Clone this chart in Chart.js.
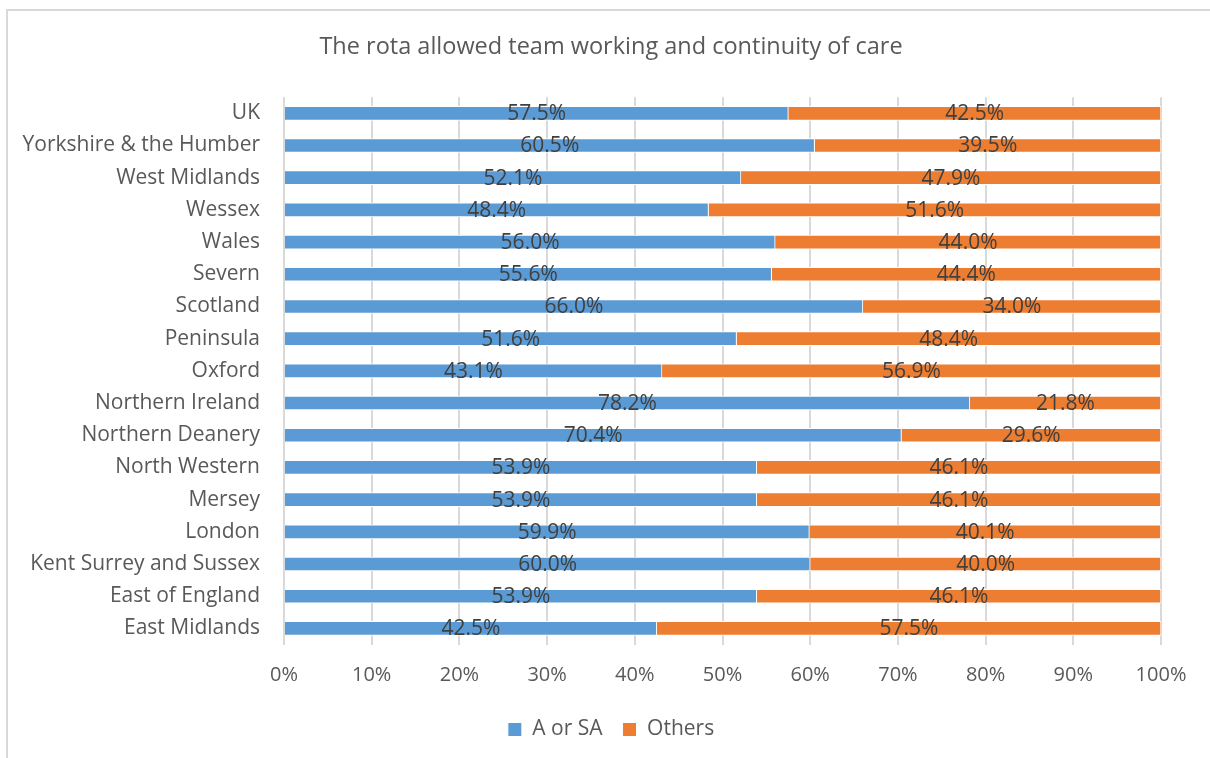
<!DOCTYPE html>
<html>
<head>
<meta charset="utf-8">
<script src="https://cdn.jsdelivr.net/npm/chart.js@4/dist/chart.umd.min.js"></script>
<style>
  html, body { margin: 0; padding: 0; background: #fff; }
  #wrap { position: relative; width: 1210px; height: 758px; }
  #frame {
    position: absolute; left: 6px; top: 9px; width: 1220px; height: 760px;
    border-left: 2px solid #d9d9d9; border-top: 2px solid #d9d9d9;
    pointer-events: none;
  }
</style>
</head>
<body>
<div id="wrap">
  <canvas id="myChart" width="1210" height="758"></canvas>
  <div id="frame"></div>
</div>
<script>
const regions = [
  "UK", "Yorkshire & the Humber", "West Midlands", "Wessex", "Wales",
  "Severn", "Scotland", "Peninsula", "Oxford", "Northern Ireland",
  "Northern Deanery", "North Western", "Mersey", "London",
  "Kent Surrey and Sussex", "East of England", "East Midlands"
];
const aOrSa = [57.5, 60.5, 52.1, 48.4, 56.0, 55.6, 66.0, 51.6, 43.1, 78.2, 70.4, 53.9, 53.9, 59.9, 60.0, 53.9, 42.5];
const others = [42.5, 39.5, 47.9, 51.6, 44.0, 44.4, 34.0, 48.4, 56.9, 21.8, 29.6, 46.1, 46.1, 40.1, 40.0, 46.1, 57.5];
const xTicks = [0, 10, 20, 30, 40, 50, 60, 70, 80, 90, 100];

const FONT = "'Open Sans', 'Noto Sans', sans-serif";
const GREY = "#595959";

// writes each segment's value in the middle of the segment
const segmentLabels = {
  id: "segmentLabels",
  afterDatasetsDraw(chart) {
    const ctx = chart.ctx;
    ctx.save();
    ctx.font = "21px " + FONT;
    ctx.fillStyle = "#404040";
    ctx.textAlign = "center";
    ctx.textBaseline = "middle";
    chart.data.datasets.forEach((ds, i) => {
      chart.getDatasetMeta(i).data.forEach((bar, j) => {
        const x = (bar.x + bar.base) / 2;
        ctx.fillText(ds.data[j].toFixed(1) + "%", x, bar.y + 1);
      });
    });
    ctx.restore();
  }
};

const ctx = document.getElementById("myChart").getContext("2d");
new Chart(ctx, {
  type: "bar",
  data: {
    labels: regions,
    datasets: [
      {
        label: "A or SA",
        data: aOrSa,
        backgroundColor: "#5b9bd5",
        borderColor: "#ffffff",
        borderWidth: 1,
        barThickness: 14
      },
      {
        label: "Others",
        data: others,
        backgroundColor: "#ed7d31",
        borderColor: "#ffffff",
        borderWidth: 1,
        barThickness: 14
      }
    ]
  },
  options: {
    indexAxis: "y",
    responsive: false,
    animation: false,
    layout: { padding: { left: 12, right: 0, top: 0, bottom: 8 } },
    scales: {
      x: {
        stacked: true,
        min: 0,
        max: 100,
        afterBuildTicks: (axis) => {
          axis.ticks = xTicks.map((v) => ({ value: v }));
        },
        afterFit: (axis) => { axis.height = 54.5; },
        ticks: {
          callback: (v) => v + "%",
          color: GREY,
          font: { family: FONT, size: 20 },
          padding: 18.5,
          maxRotation: 0
        },
        grid: { color: "#d9d9d9", lineWidth: 2, drawTicks: false },
        border: { display: false }
      },
      y: {
        stacked: true,
        afterFit: (axis) => { axis.width = 272; },
        ticks: {
          color: GREY,
          font: { family: FONT, size: 21 },
          padding: 24
        },
        grid: { display: false, drawTicks: false },
        border: { display: false }
      },
      // empty strip on the right so the plot stops short of the edge
      gutter: {
        type: "category",
        position: "right",
        afterFit: (axis) => { axis.width = 49; },
        ticks: { display: false },
        grid: { display: false, drawTicks: false },
        border: { display: false }
      }
    },
    plugins: {
      title: {
        display: true,
        text: "The rota allowed team working and continuity of care",
        color: GREY,
        font: { family: FONT, size: 23.5, weight: "normal" },
        padding: { top: 33, bottom: 36 }
      },
      legend: {
        position: "bottom",
        labels: {
          color: GREY,
          font: { family: FONT, size: 21 },
          boxWidth: 14,
          boxHeight: 14,
          padding: 20
        }
      },
      tooltip: { enabled: false }
    }
  },
  plugins: [segmentLabels]
});
</script>
</body>
</html>
